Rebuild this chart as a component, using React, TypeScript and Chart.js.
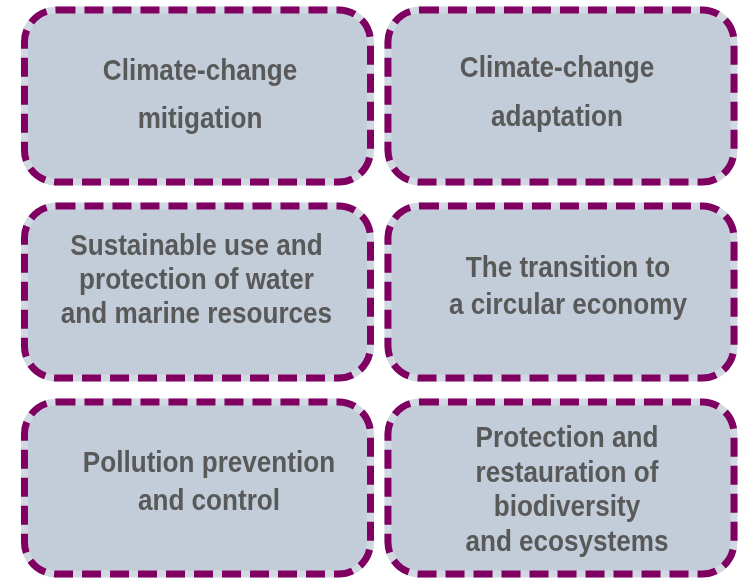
import React, { useEffect, useRef } from "react";
import { Chart, registerables } from "chart.js";

Chart.register(...registerables);

// ---- data ----
const categories: string[] = [
  "Climate-change\nmitigation",
  "Climate-change\nadaptation",
  "Sustainable use and\nprotection of water\nand marine resources",
  "The transition to\na circular economy",
  "Pollution prevention\nand control",
  "Protection and\nrestauration of\nbiodiversity\nand ecosystems",
];
const gridColumn: number[] = [0, 1, 0, 1, 0, 1];
const gridRow: number[] = [0, 0, 1, 1, 2, 2];

// ---- styles (kept apart from the data) ----
const boxWidthUnits = 0.952;
const boxHeightUnits = 0.878;
const lineHeights = [48, 49, 34, 37, 38, 34.5];
const textDx = [2.5, -4, -1, 7, 11.5, 6];
const textDy = [-3, -5, -14, -7, -8, 0];
const FILL = "#c2cdd9";
const EDGE = "#d0d9e2";
const PURPLE = "#800062";
const TEXT = "#595959";
const FONT_SIZE = 30;
const H_SCALE = 0.87;

function roundedPath(ctx: CanvasRenderingContext2D, x: number, y: number, w: number, h: number, r: number) {
  ctx.beginPath();
  ctx.moveTo(x + r, y);
  ctx.lineTo(x + w - r, y);
  ctx.arcTo(x + w, y, x + w, y + r, r);
  ctx.lineTo(x + w, y + h - r);
  ctx.arcTo(x + w, y + h, x + w - r, y + h, r);
  ctx.lineTo(x + r, y + h);
  ctx.arcTo(x, y + h, x, y + h - r, r);
  ctx.lineTo(x, y + r);
  ctx.arcTo(x, y, x + r, y, r);
  ctx.closePath();
}

const boxPlugin = {
  id: "boxes",
  afterDatasetsDraw(chart: any) {
    const ctx: CanvasRenderingContext2D = chart.ctx;
    const xs = chart.scales.x;
    const ys = chart.scales.y;
    const meta = chart.getDatasetMeta(0);
    const hw = Math.abs(xs.getPixelForValue(boxWidthUnits) - xs.getPixelForValue(0)) / 2;
    const hh = Math.abs(ys.getPixelForValue(boxHeightUnits) - ys.getPixelForValue(0)) / 2;
    meta.data.forEach((el: any, i: number) => {
      const cx = el.x;
      const cy = el.y;
      const x0 = cx - hw;
      const y0 = cy - hh;
      ctx.save();
      roundedPath(ctx, x0, y0, hw * 2, hh * 2, 32);
      ctx.fillStyle = FILL;
      ctx.fill();
      ctx.lineWidth = 7;
      ctx.strokeStyle = EDGE;
      ctx.stroke();
      ctx.setLineDash([19, 9]);
      ctx.lineCap = "butt";
      ctx.strokeStyle = PURPLE;
      ctx.stroke();
      ctx.restore();

      // text
      const lines = categories[i].split("\n");
      const lh = lineHeights[i];
      const capH = FONT_SIZE * 0.716;
      const blockH = capH + (lines.length - 1) * lh;
      const tx = cx + textDx[i];
      const firstBase = cy + textDy[i] - blockH / 2 + capH;
      ctx.save();
      ctx.font = `bold ${FONT_SIZE}px "Liberation Sans", Arial, sans-serif`;
      ctx.fillStyle = TEXT;
      ctx.textAlign = "center";
      ctx.textBaseline = "alphabetic";
      lines.forEach((ln, j) => {
        ctx.save();
        ctx.translate(tx, firstBase + j * lh);
        ctx.scale(H_SCALE, 1);
        ctx.fillText(ln, 0, 0);
        ctx.restore();
      });
      ctx.restore();
    });
  },
};

export default function App() {
  const ref = useRef<HTMLCanvasElement>(null);
  useEffect(() => {
    if (!ref.current) return;
    const chart = new Chart(ref.current, {
      type: "scatter",
      data: {
        datasets: [
          {
            label: "objectives",
            data: categories.map((_, i) => ({ x: gridColumn[i], y: gridRow[i] })),
            pointRadius: 0,
            pointHoverRadius: 0,
            showLine: false,
          },
        ],
      },
      options: {
        animation: false,
        responsive: true,
        maintainAspectRatio: false,
        events: [],
        layout: { padding: 0 },
        plugins: { legend: { display: false }, tooltip: { enabled: false } },
        scales: {
          x: { type: "linear", display: false, min: -0.5433, max: 1.509 },
          y: { type: "linear", display: false, reverse: true, min: -0.4898, max: 2.459 },
        },
      },
      plugins: [boxPlugin],
    });
    return () => chart.destroy();
  }, []);
  return (
    <div style={{ position: "fixed", left: 0, top: 0, width: 746, height: 578, background: "#ffffff" }}>
      <canvas ref={ref} />
    </div>
  );
}
